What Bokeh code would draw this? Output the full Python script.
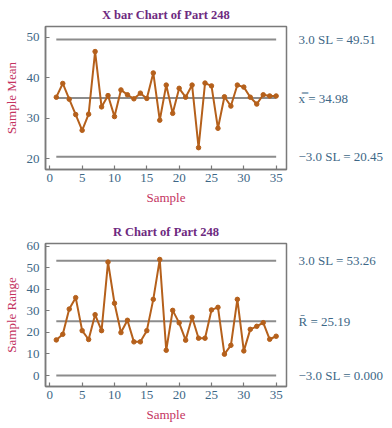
from bokeh.plotting import figure
from bokeh.layouts import column
from bokeh.models import LinearAxis, FixedTicker, Range1d
from bokeh.embed import file_html
from bokeh.resources import INLINE

samples = list(range(1, 36))
xbar = [35.2, 38.6, 34.7, 30.9, 27.0, 31.0, 46.5, 32.8, 35.6, 30.4,
        37.0, 35.8, 34.8, 36.2, 34.9, 41.2, 29.5, 38.2, 31.2, 37.4,
        35.2, 38.2, 22.7, 38.7, 38.0, 27.5, 35.3, 33.0, 38.2, 37.7,
        35.2, 33.5, 35.8, 35.5, 35.5]
rng = [16.5, 19.1, 30.8, 36.1, 20.8, 16.7, 28.2, 20.8, 52.6, 33.5,
       19.9, 25.6, 15.6, 15.6, 20.8, 35.3, 53.8, 11.7, 30.2, 24.4,
       16.4, 27.0, 17.3, 17.3, 30.4, 31.6, 9.9, 14.0, 35.3, 11.4,
       21.4, 22.8, 24.5, 16.8, 18.2]
xbar_limits = [49.51, 34.98, 20.45]
xbar_labels = ["3.0 SL = 49.51", "x\u033f = 34.98", "\u22123.0 SL = 20.45"]
r_limits = [53.26, 25.19, 0.0]
r_labels = ["3.0 SL = 53.26", "R\u0304 = 25.19", "\u22123.0 SL = 0.000"]
x_ticks = [0, 5, 10, 15, 20, 25, 30, 35]

FONT = "Liberation Serif"
TICK_C = "#3d6786"
LAB_C = "#c4335f"
TITLE_C = "#6e2a80"
LINE_C = "#b5601b"
CL_C = "#8c8c8c"
FRAME_C = "#7a7a7a"


def make(title, ylab, vals, limits, labels, yr, yticks, top_border, bottom_border):
    p = figure(output_backend="svg", toolbar_location=None,
               frame_width=241, frame_height=143,
               min_border_left=42, min_border_right=94,
               min_border_top=top_border, min_border_bottom=bottom_border,
               x_range=Range1d(-0.67, 36.6), y_range=Range1d(*yr),
               title=title)
    p.title.align = "center"
    p.title.text_font = FONT
    p.title.text_font_size = "12.5px"
    p.title.text_font_style = "bold"
    p.title.text_color = TITLE_C
    p.xgrid.visible = False
    p.ygrid.visible = False
    p.outline_line_color = FRAME_C
    p.outline_line_width = 1.5
    p.background_fill_color = "white"
    p.border_fill_color = "white"

    for ax in (p.xaxis[0], p.yaxis[0]):
        ax.axis_line_color = FRAME_C
        ax.axis_line_width = 1.5
        ax.major_tick_in = 4
        ax.major_tick_out = 0
        ax.major_tick_line_color = FRAME_C
        ax.major_tick_line_width = 1.2
        ax.minor_tick_line_color = None
        ax.major_label_text_font = FONT
        ax.major_label_text_font_size = "13px"
        ax.major_label_text_color = TICK_C
        ax.axis_label_text_font = FONT
        ax.axis_label_text_font_size = "13px"
        ax.axis_label_text_font_style = "normal"
        ax.axis_label_text_color = LAB_C
    p.xaxis[0].ticker = FixedTicker(ticks=x_ticks)
    p.yaxis[0].ticker = FixedTicker(ticks=yticks)
    p.xaxis[0].axis_label = "Sample"
    p.yaxis[0].axis_label = ylab
    p.xaxis[0].major_label_standoff = 4
    p.yaxis[0].major_label_standoff = 6

    rax = LinearAxis(ticker=FixedTicker(ticks=limits),
                     major_label_overrides={float(v): t for v, t in zip(limits, labels)})
    rax.axis_line_color = None
    rax.major_tick_line_color = None
    rax.minor_tick_line_color = None
    rax.major_label_standoff = 6
    rax.major_label_text_font = FONT
    rax.major_label_text_font_size = "13px"
    rax.major_label_text_color = TICK_C
    p.add_layout(rax, "right")

    p.segment(x0=[samples[0]] * 3, x1=[samples[-1]] * 3, y0=limits, y1=limits,
              line_color=CL_C, line_width=2)
    p.line(samples, vals, line_color=LINE_C, line_width=2)
    p.scatter(samples, vals, size=4.5, color=LINE_C)
    return p


p1 = make("X bar Chart of Part 248", "Sample Mean", xbar, xbar_limits, xbar_labels,
          (17.3, 52.7), [20, 30, 40, 50], 19, 44)
p2 = make("R Chart of Part 248", "Sample Range", rng, r_limits, r_labels,
          (-5.1, 61.2), [0, 10, 20, 30, 40, 50, 60], 30, 33)

layout = column(p1, p2, spacing=0)
open("out.html", "w").write(file_html(layout, INLINE))
